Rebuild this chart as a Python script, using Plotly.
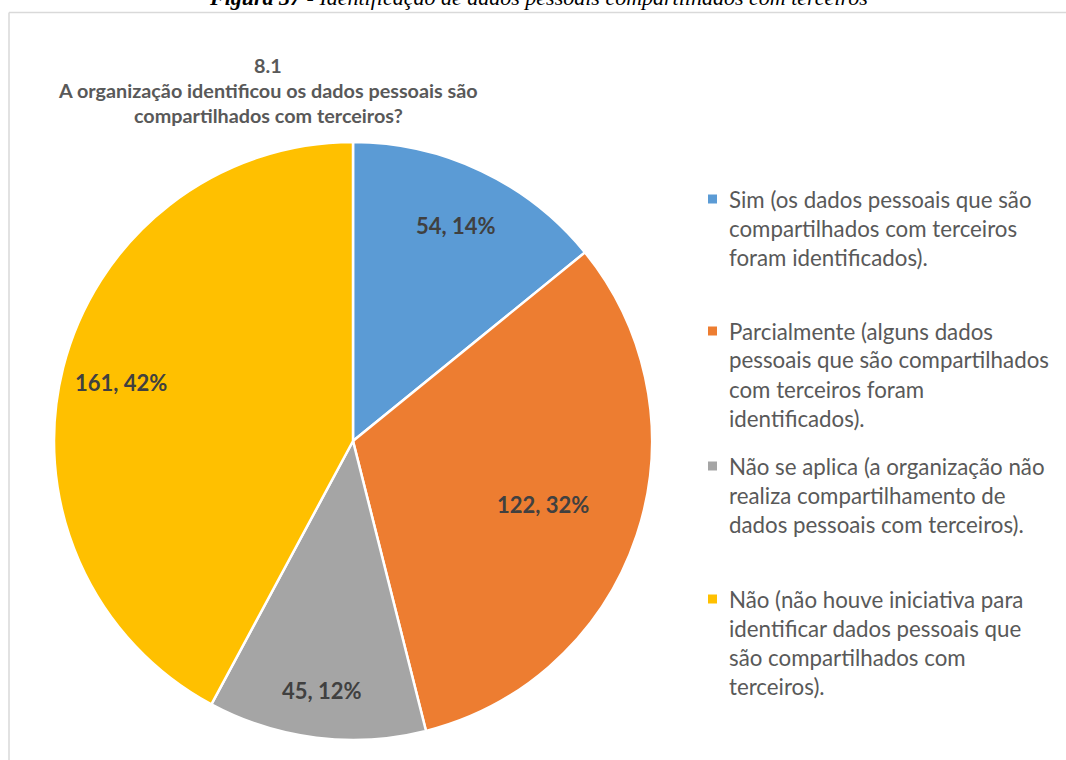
import math

import plotly.graph_objects as go

# data
labels = [
    "Sim (os dados pessoais que são<br>compartilhados com terceiros<br>foram identificados).",
    "Parcialmente (alguns dados<br>pessoais que são compartilhados<br>com terceiros foram<br>identificados).",
    "Não se aplica (a organização não<br>realiza compartilhamento de<br>dados pessoais com terceiros).",
    "Não (não houve iniciativa para<br>identificar dados pessoais que<br>são compartilhados com<br>terceiros).",
]
values = [54, 122, 45, 161]
colors = ["#5B9BD5", "#ED7D31", "#A5A5A5", "#FFC000"]

title_lines = ["8.1", "A organização identificou os dados pessoais são", "compartilhados com terceiros?"]
caption = "<b>Figura 37</b> - Identificação de dados pessoais compartilhados com terceiros"

W, H = 1066, 760
FONT = "Lato"
# pie geometry in pixels
cx, cy, rad = 353, 441, 299
label_radius = [0.8, 0.67, 0.84, 0.8]
legend_top = [199, 331, 466, 599]


def px(x):
    return x / W


def py(y):
    return 1 - y / H


fig = go.Figure()
fig.add_trace(
    go.Pie(
        labels=[l.replace("<br>", " ") for l in labels],
        values=values,
        sort=False,
        direction="clockwise",
        rotation=0,
        marker={"colors": colors, "line": {"color": "white", "width": 2.5}},
        textinfo="none",
        showlegend=False,
        domain={"x": [px(cx - rad), px(cx + rad)], "y": [py(cy + rad), py(cy - rad)]},
    )
)

annotations = []
shapes = []

# data labels
total = sum(values)
cum = 0
for v, f in zip(values, label_radius):
    theta = math.radians(360 * (cum + v / 2) / total)
    cum += v
    x = cx + rad * f * math.sin(theta)
    y = cy - rad * f * math.cos(theta)
    annotations.append(
        dict(
            x=px(x), y=py(y), xref="paper", yref="paper",
            xanchor="center", yanchor="middle",
            text=f"<b>{v}, {round(100 * v / total)}%</b>",
            showarrow=False, font={"family": FONT, "size": 22, "color": "#404040"},
        )
    )

# legend drawn by hand so the line spacing matches
for lab, col, top in zip(labels, colors, legend_top):
    for i, line in enumerate(lab.split("<br>")):
        annotations.append(
            dict(
                x=px(727), y=py(top + 29 * i), xref="paper", yref="paper",
                xanchor="left", yanchor="middle", text=line, showarrow=False,
                font={"family": FONT, "size": 22.3, "color": "#595959"},
            )
        )
    shapes.append(
        dict(type="rect", xref="paper", yref="paper",
             x0=px(708), x1=px(717), y0=py(top + 4.5), y1=py(top - 4.5),
             fillcolor=col, line={"width": 0})
    )

# chart title
for i, line in enumerate(title_lines):
    annotations.append(
        dict(
            x=px(268), y=py(65 + 25 * i), xref="paper", yref="paper",
            xanchor="center", yanchor="middle",
            text=f"<b>{line}</b>", showarrow=False,
            font={"family": FONT, "size": 19.8, "color": "#595959"},
        )
    )

# figure caption, cut off at the top edge
annotations.append(
    dict(
        x=px(538), y=py(-2.5), xref="paper", yref="paper",
        xanchor="center", yanchor="middle",
        text=f"<i>{caption}</i>", showarrow=False,
        font={"family": "Liberation Serif", "size": 22, "color": "#000000"},
    )
)

# chart area frame (only top and left edges are inside the page)
frame = {"color": "#D9D9D9", "width": 1.5}
shapes.append(dict(type="line", xref="paper", yref="paper",
                   x0=px(9), x1=1.05, y0=py(12.5), y1=py(12.5), line=frame))
shapes.append(dict(type="line", xref="paper", yref="paper",
                   x0=px(9), x1=px(9), y0=py(12.5), y1=-0.05, line=frame))

fig.update_layout(
    width=W, height=H,
    margin={"l": 0, "r": 0, "t": 0, "b": 0},
    paper_bgcolor="white", plot_bgcolor="white",
    annotations=annotations, shapes=shapes,
)

fig.write_html(
    "out.html",
    config={"displayModeBar": False},
    post_script=(
        "document.body.style.margin='0';document.body.style.overflow='hidden';"
        "document.documentElement.style.overflow='hidden';"
    ),
)
